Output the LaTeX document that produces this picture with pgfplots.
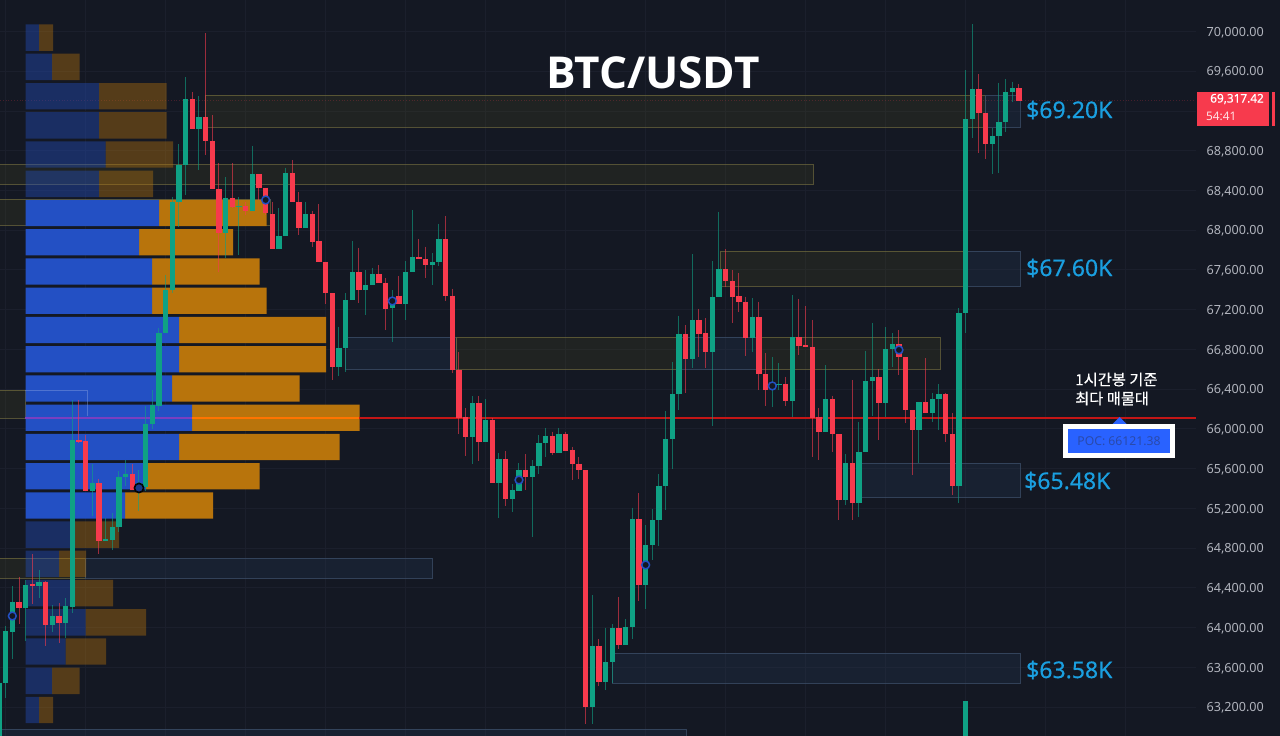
\documentclass[border=0pt]{standalone}
\usepackage{pgfplots}
\usepackage{pgfplotstable}
\usepackage{fontspec}
\pgfplotsset{compat=1.18}
\setmainfont{Noto Sans}
\newfontfamily\kr[FakeBold=0.35]{Noto Sans CJK KR}
\newfontfamily\boldf{Open Sans}
\newfontfamily\labf[FakeBold=0.45]{Noto Sans}
\definecolor{bgc}{HTML}{141823}
\definecolor{gridc}{HTML}{1B1F2C}
\definecolor{upc}{HTML}{0FA184}
\definecolor{dnc}{HTML}{F73A4D}
\definecolor{pblue}{HTML}{2350C4}
\definecolor{porange}{HTML}{B8740C}
\definecolor{zy}{HTML}{4A4A22}
\definecolor{zyb}{HTML}{77703F}
\definecolor{zb}{HTML}{28405E}
\definecolor{zbb}{HTML}{3A4C66}
\definecolor{lab}{HTML}{1A9FE0}
\definecolor{tick}{HTML}{B2B5BE}
\definecolor{pocb}{HTML}{2962FF}
\definecolor{poct}{HTML}{2A4AAA}
\definecolor{pocr}{HTML}{C41616}
\definecolor{poco}{HTML}{FF7400}
\definecolor{pocp}{HTML}{7A3FC0}
% k  high low bodyhigh bodylow
\pgfplotstableread{
k hi lo bh bl
-1 63445 62868 63445 62868
0 64016 63291 63965 63439
1 64418 63683 64257 63958
3 64479 63865 64428 64200
5 64579 64298 64462 64418
7 64227 63955 64116 64026
9 64298 63895 64217 64046
10 66291 64147 65888 64210
13 65646 65123 65455 65375
15 65103 64871 64894 64871
16 65153 64781 65015 64881
17 65576 64962 65516 65015
18 65687 65425 65549 65516
20 65586 65173 65455 65375
21 66230 65375 66052 65418
22 66391 65999 66240 66052
23 67015 66180 66965 66230
24 67549 66965 67398 66965
25 68334 67368 68287 67398
26 68867 68032 68656 68287
27 69542 68354 69317 68656
29 69351 68606 69139 69018
33 68535 67720 68324 67972
35 68334 67750 68243 68230
37 68850 68196 68566 68196
41 68223 67808 67941 67808
42 68629 67941 68576 67941
45 68287 68025 68163 68025
50 67028 66532 66817 66626
51 67368 66572 67297 66817
52 67894 67297 67576 67297
54 67599 67146 67448 67398
55 67619 67448 67559 67448
58 67398 66877 67277 67217
60 67690 67096 67582 67254
61 68203 67582 67733 67582
64 67770 67453 67680 67650
65 68065 67639 67911 67680
70 66331 65646 66262 65915
72 66297 65868 66085 65868
74 65752 65099 65697 65459
76 65445 65167 65385 65294
77 65656 65378 65582 65378
79 65687 64912 65623 65516
80 65938 65541 65861 65623
81 66009 65717 65928 65861
83 66009 65759 65948 65759
88 64323 63029 63819 63200
90 64000 63371 63649 63455
91 64036 63442 64000 63649
93 64086 63829 64006 63829
94 65207 63881 65089 64006
96 65032 64187 64827 64425
97 65193 64680 65079 64827
98 65546 64816 65429 65079
99 66180 65183 65898 65429
100 66673 65599 66347 65898
101 67140 66190 66950 66347
103 67760 66613 67096 66704
106 67690 66029 67327 66774
107 68186 67330 67609 67330
112 67317 66777 67129 66915
115 66723 66220 66462 66391
116 66663 66391 66452 66439
118 67348 66123 66922 66281
123 66643 65965 66301 65965
126 65747 65234 65653 65284
128 66072 65116 65770 65257
129 66787 65764 66485 65764
130 67069 66130 66519 66485
132 67022 66123 66804 66263
133 66965 66626 66851 66804
137 66267 65656 66267 65989
139 66364 66072 66301 66157
140 66452 65989 66348 66301
143 67217 65254 67163 65425
144 69612 66965 69119 67163
144 63261 62868 63261 62868
145 70075 68928 69418 69116
148 69029 68562 68951 68864
149 69485 68573 69092 68951
150 69519 68991 69394 69086
151 69495 69293 69428 69394
}\upcandles
\pgfplotstableread{
k hi lo bh bl
2 64512 64036 64257 64200
4 64740 64237 64438 64423
6 64469 63814 64462 64026
8 64247 63845 64116 64046
11 66291 65858 65888 65868
12 65938 65375 65878 65375
14 65495 64740 65455 64871
19 65646 65385 65549 65385
28 69391 69018 69317 69018
30 69985 68757 69139 68901
31 69159 68415 68901 68415
32 68676 67579 68415 67972
34 68676 68223 68324 68236
36 68287 68153 68243 68196
38 68566 68304 68566 68428
39 68428 68153 68428 68173
40 68287 67808 68163 67808
43 68706 68284 68576 68284
44 68387 67951 68287 68025
46 68196 67834 68163 67884
47 68264 67683 67891 67683
48 67683 67257 67683 67365
49 67365 66492 67365 66626
53 67824 67267 67576 67398
56 67650 67468 67559 67468
57 67519 66995 67471 67207
59 67539 67254 67340 67254
62 67911 67707 67733 67707
63 67834 67519 67707 67650
66 68143 67287 67911 67340
67 67412 66558 67340 66593
68 66774 65948 66593 66109
69 66210 65727 66116 65915
71 66331 65677 66262 65868
73 66109 65459 66085 65459
75 65777 65224 65697 65294
78 65747 65388 65582 65516
82 65973 65737 65928 65759
84 65973 65779 65948 65779
85 65821 65480 65787 65650
86 65717 65495 65650 65582
87 65582 63029 65582 63200
89 63881 63412 63819 63455
92 64308 63784 64000 63829
95 65350 64272 65089 64425
102 67046 66361 66950 66704
104 67207 66723 67096 66957
105 67116 66613 66965 66774
108 67811 67431 67609 67488
109 67599 67069 67488 67330
110 67569 67179 67337 67280
111 67330 66737 67280 66915
113 67280 66391 67129 66549
114 66764 66230 66549 66391
117 66525 66230 66452 66281
119 67304 66744 66922 66834
120 67237 66827 66844 66827
121 67096 65720 66827 66106
122 66210 65687 66123 65965
124 66334 65764 66301 65945
125 65945 65083 65945 65284
127 66492 65083 65653 65257
131 66603 65888 66519 66263
134 66995 66542 66854 66723
135 66720 66059 66720 66190
136 66190 65536 66190 65989
138 66713 66157 66267 66157
141 66361 65871 66348 65945
142 66160 65334 65945 65425
146 69572 68780 69418 69183
147 69183 68713 69183 68864
152 69471 69303 69428 69303
}\downcandles
% price level, dim buy, buy, dim sell, sell
\pgfplotstableread{
p db b ds s
69938 13.5 0 14 0
69644 26.5 0 27.5 0
69349 73.5 0 67.5 0
69055 73.5 0 67.5 0
68761 80 0 67.5 0
68466 73.5 0 54 0
68172 0 133.5 0 107.5
67878 0 113.5 0 94
67583 0 126.5 0 107.5
67289 0 126.5 0 114.5
66995 0 153.5 0 147
66701 0 153.5 0 147
66406 0 146.5 0 127.5
66112 0 166.5 0 167.5
65818 0 153.5 0 160.5
65523 0 120.5 0 113.5
65229 0 99.5 0 88
64935 49.5 0 44 0
64641 33.5 0 27 0
64346 49.5 0 38 0
64052 60 0 60.5 0
63758 40 0 40.5 0
63463 26.5 0 27.5 0
63169 13.5 0 14 0
}\profile
\pgfplotsset{base/.style={at={(0pt,0pt)},anchor=south west,scale only axis,
  width=1196pt,height=736pt,ymin=62908,ymax=70317},
  candle axis/.style={base,xmin=-0.85,xmax=178.55},
  yz/.style={fill=zy,fill opacity=.24,draw=zyb,draw opacity=.65,line width=.8pt},
  bz/.style={fill=zb,fill opacity=.24,draw=zbb,draw opacity=.8,line width=.8pt},
  wick/.style={draw=none,mark=none,forget plot,error bars/.cd,y dir=minus,y explicit,
    error mark=none,error bar style={draw=#1,line width=1pt,draw opacity=.6}},
  body/.style={draw=none,mark=none,forget plot,error bars/.cd,y dir=minus,y explicit,
    error mark=none,error bar style={draw=#1,line width=5.6pt}}}
\begin{document}
\begin{tikzpicture}[x=1pt,y=1pt]
\path[use as bounding box,fill=bgc] (0,0) rectangle (1280,736);
% grid, price scale and zones
\begin{axis}[candle axis,
  xtick={0,12,...,168},xticklabels={},
  ytick={63200,63600,64000,64400,64800,65200,65600,66000,66400,66800,67200,67600,68000,68400,68800,69600,70000},
  extra y ticks={69200},extra y tick labels={},
  yticklabel pos=right,
  major tick length=0pt,
  grid=major,major grid style={gridc,line width=.8pt},
  axis line style={draw=none},
  clip=true,
  yticklabel style={anchor=east,inner sep=0pt,xshift=68pt,yshift=-1pt,text=tick,font=\fontsize{12.6}{14}\selectfont,
    /pgf/number format/.cd,fixed,fixed zerofill,precision=2,1000 sep={,},assume math mode=true},
  scaled y ticks=false]
\addplot[yz] coordinates {(29.9,69356)(146.9,69356)(146.9,69034)(29.9,69034)} --cycle;
\addplot[bz] coordinates {(146.9,69356)(152.15,69356)(152.15,69034)(146.9,69034)} --cycle;
\addplot[yz] coordinates {(-3,68661)(121.1,68661)(121.1,68465)(-3,68465)} --cycle;
\addplot[yz] coordinates {(-3,68309)(39.65,68309)(39.65,68047)(-3,68047)} --cycle;
\addplot[bz] coordinates {(50.9,66925)(67.55,66925)(67.55,66603)(50.9,66603)} --cycle;
\addplot[yz] coordinates {(67.55,66925)(101.15,66925)(101.15,66603)(67.55,66603)} --cycle;
\addplot[bz] coordinates {(101.15,66925)(113.15,66925)(113.15,66603)(101.15,66603)} --cycle;
\addplot[yz] coordinates {(113.15,66925)(140.15,66925)(140.15,66603)(113.15,66603)} --cycle;
\addplot[yz] coordinates {(107.15,67790)(143.9,67790)(143.9,67438)(107.15,67438)} --cycle;
\addplot[bz] coordinates {(143.9,67790)(152.15,67790)(152.15,67438)(143.9,67438)} --cycle;
\addplot[bz] coordinates {(128.15,65656)(152.15,65656)(152.15,65314)(128.15,65314)} --cycle;
\addplot[yz] coordinates {(-3,64700)(11.9,64700)(11.9,64499)(-3,64499)} --cycle;
\addplot[bz] coordinates {(11.9,64700)(63.95,64700)(63.95,64499)(11.9,64499)} --cycle;
\addplot[bz] coordinates {(90.95,63744)(152.15,63744)(152.15,63442)(90.95,63442)} --cycle;
\addplot[bz] coordinates {(-3,62979)(102.05,62979)(102.05,62800)(-3,62800)} --cycle;
\addplot[yz] coordinates {(-3,66391)(2.9,66391)(2.9,66109)(-3,66109)} --cycle;
\addplot[draw=dnc,draw opacity=.22,line width=.8pt,dotted] coordinates {(-0.85,69303)(178.55,69303)};
\end{axis}
% volume profile, in its own units measured from the profile's left edge
\begin{axis}[base,hide axis,xmin=-25.5,xmax=1170.5,xbar stacked,bar width=26.3pt,bar shift=0pt]
\addplot[draw=none,fill=pblue,fill opacity=.4] table[y=p,x=db] {\profile};
\addplot[draw=none,fill=pblue] table[y=p,x=b] {\profile};
\addplot[draw=none,fill=porange,fill opacity=.4] table[y=p,x=ds] {\profile};
\addplot[draw=none,fill=porange] table[y=p,x=s] {\profile};
\end{axis}
% POC line, candles, rings
\begin{axis}[candle axis,hide axis]
\addplot[draw=pblue!55!white,draw opacity=.45,line width=.8pt] coordinates {(2.9,66391)(12.2,66391)(12.2,66130)};
\addplot[draw=pocp,line width=1.9pt] coordinates {(2.9,66110)(27.95,66110)};
\addplot[draw=poco,line width=1.9pt] coordinates {(27.95,66110)(53.07,66110)};
\addplot[draw=pocr,line width=1.9pt] coordinates {(53.07,66110)(178.55,66110)};
\addplot[wick=upc] table[x=k,y=hi,y error minus expr=\thisrow{hi}-\thisrow{lo}] {\upcandles};
\addplot[wick=dnc] table[x=k,y=hi,y error minus expr=\thisrow{hi}-\thisrow{lo}] {\downcandles};
\addplot[body=upc] table[x=k,y=bh,y error minus expr=\thisrow{bh}-\thisrow{bl}] {\upcandles};
\addplot[body=dnc] table[x=k,y=bh,y error minus expr=\thisrow{bh}-\thisrow{bl}] {\downcandles};
\addplot[only marks,mark=*,mark size=3.9pt,mark options={fill=bgc,draw=pblue,line width=1.5pt}]
  coordinates {(1,64116)(39,68304)(58,67287)(77,65485)(96,64630)(115,66432)(134,66794)};
\addplot[only marks,mark=*,mark size=4.6pt,mark options={fill=pblue!70!black,draw=black!85!bgc,line width=1.6pt}]
  coordinates {(20,65405)};
\end{axis}
% annotations
\node[text=white,font=\fontsize{44}{50}\boldf\bfseries\selectfont,inner sep=0pt] at (653,663) {BTC/USDT};
\foreach \yy/\xx/\t in {626/1026/\$69.20K,468/1026/\$67.60K,255/1024/\$65.48K,66/1026/\$63.58K}
  \node[text=lab,anchor=west,inner sep=0pt,font=\fontsize{23}{27}\labf\selectfont] at (\xx,\yy) {\t};
\fill[dnc] (1197,610.3) rectangle (1269,644.3);
\fill[dnc] (1272,610.3) rectangle (1275,644.3);
\node[text=white,anchor=east,inner sep=0pt,font=\fontsize{11.8}{13}\labf\selectfont] at (1264,637) {69,317.42};
\node[text=white!85!dnc,anchor=west,inner sep=0pt,font=\fontsize{11.8}{13}\selectfont] at (1206,620) {54:41};
\node[text=white,align=left,anchor=west,inner sep=0pt,font=\fontsize{15.3}{19}\kr\selectfont] at (1075,347) {1시간봉 기준\\최다 매물대};
\fill[pocb] (1112.5,312) -- (1119.5,319) -- (1126.5,312) -- cycle;
\fill[white] (1063.3,278) rectangle (1175,312);
\fill[pocb] (1068,283) rectangle (1170,307.3);
\node[text=poct,inner sep=0pt,font=\fontsize{12.2}{14}\selectfont] at (1119,295) {POC: 66121.38};
\end{tikzpicture}
\end{document}
